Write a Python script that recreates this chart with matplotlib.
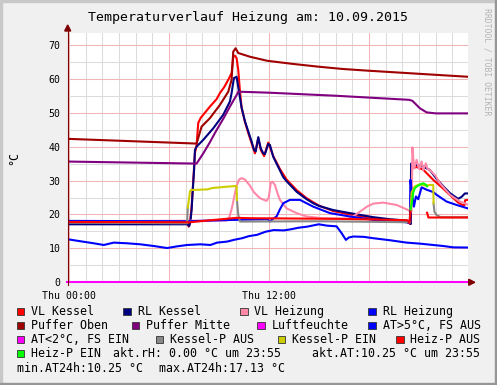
import numpy as np
import matplotlib
matplotlib.use("Agg")
import matplotlib.pyplot as plt
from matplotlib.patches import Rectangle, Polygon
from matplotlib.lines import Line2D

nan = np.nan

# ---- data (hours of the day, degC) ----
vl_kessel_t = [-0.1, 7.1, 7.18, 7.25, 7.35, 7.45, 7.55, 7.65, 7.75, 7.9, 8.05, 8.45, 8.85, 9.05, 9.3,
               9.55, 9.75, 9.8, 9.85, 9.95, 10.05, 10.15, 10.25, 10.35, 10.55, 10.75, 10.95, 11.15,
               11.35, 11.5, 11.7, 11.95, 12.25, 12.65, 13.05, 13.65, 14.25, 14.65, 15.0, 15.85,
               16.85, 18.25, 19.25, 20.25, 20.45, 20.5, 20.53, 20.85, 21.25, 21.85, 22.45, 22.85,
               23.35, 23.6, 23.72, 23.76, 23.92]
vl_kessel_v = [17.6, 17.5, 16.4, 17.5, 22.0, 30.0, 38.0, 40.5, 47.0, 48.5, 49.4, 51.8, 54.0, 55.8, 57.5,
               59.7, 61.7, 64.0, 66.5, 66.8, 66.1, 62.6, 56.5, 51.5, 47.3, 44.0, 41.0, 38.0,
               42.5, 39.0, 37.2, 41.2, 37.2, 33.4, 30.3, 27.2, 24.8, 23.6, 22.6, 21.0,
               20.0, 18.9, 18.3, 17.8, 17.3, 17.2, 33.5, 34.0, 33.2, 30.2, 27.6, 25.7,
               23.5, 22.8, 22.7, 24.2, 24.3]

rl_kessel_t = [-0.1, 7.1, 7.21, 7.28, 7.35, 7.42, 7.5, 7.55, 7.65, 8.05, 8.65, 9.25, 9.65, 9.75, 9.89,
               10.05, 10.15, 10.35, 10.55, 10.75, 10.95, 11.1, 11.2, 11.35, 11.5, 11.65, 11.75,
               11.95, 12.05, 12.25, 12.65, 12.85, 13.05, 13.65, 14.25, 14.65, 15.0, 15.85, 16.85,
               18.25, 19.25, 20.25, 20.45, 20.49, 20.52, 20.85, 21.25, 21.65, 22.05, 22.45, 22.85,
               23.05, 23.35, 23.55, 23.75, 23.92]
rl_kessel_v = [17.1, 17.1, 16.6, 17.9, 21.3, 27.2, 33.1, 39.0, 40.0, 42.0, 45.4, 49.4, 53.3, 55.8, 60.2,
               60.6, 57.5, 51.5, 47.5, 44.5, 41.5, 39.0, 38.6, 42.8, 39.5, 38.0, 37.8,
               40.8, 40.5, 37.0, 33.0, 31.0, 29.8, 26.7, 24.5, 23.3, 22.5, 21.3, 20.4,
               19.2, 18.6, 18.2, 17.6, 17.2, 35.0, 34.6, 34.1, 33.1, 30.5, 28.3, 26.3,
               25.6, 24.6, 25.2, 26.2, 26.2]

vl_heizung_t = [-0.1, 9.45, 9.6, 9.75, 9.9, 10.05, 10.2, 10.35, 10.55, 10.85, 11.1, 11.45, 11.85, 11.98,
                12.1, 12.2, 12.35, 12.5, 12.65, 13.05, 13.65, 14.25, 15.2, 16.3, 16.75, 17.1, 17.5,
                17.9, 18.25, 18.85, 19.65, 20.35, 20.49, 20.55, 20.6, 20.7, 20.85, 21.0, 21.15,
                21.25, 21.41, 21.5, 21.65, 22.0, 22.25, 22.85, 23.45, 23.75, 23.92]
vl_heizung_v = [18.0, 18.2, 19.0, 21.5, 25.0, 28.5, 30.3, 30.7, 30.3, 28.5, 26.5, 24.8, 24.0, 25.0,
                29.3, 29.7, 28.7, 26.3, 24.3, 21.8, 20.4, 19.4, 18.9, 18.8, 18.8, 19.6, 21.0,
                22.4, 23.2, 23.5, 22.8, 21.3, 20.8, 21.0, 39.8, 33.5, 36.1, 33.4, 35.6,
                33.1, 35.1, 33.5, 33.1, 31.3, 29.2, 25.8, 23.8, 23.3, 22.9]

rl_heizung_t = [-0.1, 7.1, 9.9, 11.9, 12.05, 12.2, 12.45, 12.65, 12.85, 13.25, 13.85, 14.25, 14.65,
                15.65, 16.85, 18.25, 20.25, 20.45, 20.48, 20.55, 20.69, 20.81, 20.95, 21.15, 21.45,
                21.85, 22.05, 22.65, 23.25, 23.92]
rl_heizung_v = [18.1, 18.0, 18.4, 18.6, 17.9, 18.6, 19.4, 21.5, 23.3, 24.3, 24.3, 23.3, 22.3,
                20.4, 19.4, 18.4, 17.7, 17.4, 30.2, 27.0, 22.3, 25.3, 24.5, 28.0, 27.3,
                26.6, 25.8, 23.8, 22.8, 21.8]

puffer_oben_t = [-0.1, 7.65, 7.95, 8.45, 9.05, 9.55, 9.75, 9.85, 9.99, 10.15, 10.85, 11.9, 13.4,
                 14.9, 16.4, 17.9, 19.9, 21.9, 23.92]
puffer_oben_v = [42.3, 40.9, 45.9, 48.4, 52.3, 56.2, 59.7, 68.0, 69.0, 67.6, 66.5, 65.3, 64.4,
                 63.6, 62.9, 62.4, 61.8, 61.2, 60.6]

puffer_mitte_t = [-0.1, 7.65, 8.05, 8.45, 8.85, 9.25, 9.65, 10.05, 10.15, 12.0, 16.0, 20.4, 20.6,
                  21.05, 21.45, 22.0, 23.92]
puffer_mitte_v = [35.6, 35.0, 38.0, 41.3, 44.9, 48.2, 51.8, 55.2, 56.2, 55.9, 55.0, 53.8, 53.5,
                  51.3, 50.1, 49.8, 49.8]

luftfeuchte_t = [-0.1, 23.92]
luftfeuchte_v = [0.0, 0.0]

aussen_t = [-0.1, 0.68, 1.48, 2.08, 2.68, 3.48, 4.28, 5.08, 5.88, 6.48, 7.08, 7.88, 8.48, 8.88, 9.48,
            9.88, 10.38, 10.78, 11.28, 11.78, 12.28, 12.88, 13.28, 13.78, 14.28, 14.98, 15.48,
            16.05, 16.35, 16.61, 16.78, 17.05, 17.68, 18.25, 19.25, 20.25, 21.05, 21.85, 22.45,
            23.05, 23.92]
aussen_v = [12.7, 12.1, 11.5, 11.0, 11.7, 11.5, 11.2, 10.7, 10.1, 10.6, 11.0, 11.2, 11.0, 11.7, 12.0,
            12.5, 13.0, 13.6, 14.0, 14.9, 15.4, 15.3, 15.6, 16.1, 16.4, 17.1, 16.7,
            16.5, 14.5, 12.5, 13.2, 13.5, 13.4, 13.0, 12.4, 11.7, 11.4, 11.0, 10.7,
            10.3, 10.25]

kessel_p_aus_t = [-0.1, 7.08, 7.12, nan, 10.07, 10.15, 10.25, 15.0, 20.45, nan,
                  21.87, 21.92, 22.05, 22.3, 23.92]
kessel_p_aus_v = [17.6, 17.4, 22.0, nan, 24.3, 19.9, 17.9, 18.0, 17.7, nan,
                  23.3, 20.8, 19.8, 19.2, 19.2]
kessel_p_ein_t = [7.12, 7.16, 7.25, 7.3, 8.3, 8.6, 9.5, 10.05, 10.07, nan,
                  20.49, 20.55, 20.75, 21.05, 21.4, 21.6, 21.85, 21.87]
kessel_p_ein_v = [22.0, 23.3, 26.7, 27.2, 27.4, 27.8, 28.2, 28.4, 24.3, nan,
                  21.5, 26.5, 28.3, 28.9, 28.5, 28.7, 28.7, 23.3]

heiz_p_aus_t = [-0.1, 7.25, 8.5, 10.05, 10.9, 16.25, 18.5, 20.3, 20.42, 20.48, nan,
                21.48, 21.56, 23.92]
heiz_p_aus_v = [17.8, 17.7, 18.3, 19.0, 18.9, 18.7, 18.5, 18.3, 17.5, 21.0, nan,
                20.5, 19.1, 19.1]
heiz_p_ein_t = [20.49, 20.55, 20.65, 20.75, 20.9, 21.05, 21.25, 21.4, 21.48]
heiz_p_ein_v = [21.5, 23.0, 26.5, 27.8, 28.4, 28.8, 29.2, 28.8, 28.3]

x_ticks = [0, 12]
x_labels = ["Thu 00:00", "Thu 12:00"]
y_ticks = [0, 10, 20, 30, 40, 50, 60, 70]

title = "Temperaturverlauf Heizung am: 10.09.2015"
legend_rows = [
    [("#FF0000", "VL Kessel"), ("#000080", "RL Kessel"), ("#FF88A8", "VL Heizung"), ("#0000FF", "RL Heizung")],
    [("#A00000", "Puffer Oben"), ("#800080", "Puffer Mitte"), ("#FF00FF", "Luftfeuchte"), ("#0000FF", "AT>5°C, FS AUS")],
    [("#FF00FF", "AT<2°C, FS EIN"), ("#888888", "Kessel-P AUS"), ("#CCCC00", "Kessel-P EIN"), ("#FF0000", "Heiz-P AUS")],
    [("#00FF00", "Heiz-P EIN")],
]
legend_box_x = [[16.7, 123.3, 240.0, 368.3],
                [16.7, 131.7, 257.3, 368.3],
                [16.7, 155.7, 277.7, 396.0],
                [16.7]]
info_texts = [(113.3, 3, "akt.rH: 0.00 °C um 23:55"),
              (312.3, 3, "akt.AT:10.25 °C um 23:55"),
              (16.7, 4, "min.AT24h:10.25 °C"),
              (158.7, 4, "max.AT24h:17.13 °C")]

# ---- figure ----
W, H = 497, 385
MONO = "DejaVu Sans Mono"
fig = plt.figure(figsize=(W / 100, H / 100), dpi=100, facecolor="#F0F0F0")


def fx(x):
    return x / W


def fy(y):
    return 1 - y / H


L, R, T, B = 67.7, 467.7, 33.0, 282.3
ax = fig.add_axes([fx(L), fy(B), (R - L) / W, (B - T) / H])
ax.set_facecolor("white")
ax.set_xlim(-5 / 60, 23 + 55 / 60)
ax.set_ylim(0, 73.5)
for s in ax.spines.values():
    s.set_visible(False)

# grid
for h in range(0, 24):
    ax.axvline(h, color="#F2B4B4" if h % 6 == 0 else "#DCDCDC", lw=0.75, zorder=0)
for v in range(5, 75, 5):
    ax.axhline(v, color="#F2B4B4" if v % 10 == 0 else "#DCDCDC", lw=0.75, zorder=0)

ax.set_xticks(x_ticks)
ax.set_xticklabels(x_labels, family=MONO, fontsize=7.1)
ax.set_yticks(y_ticks)
ax.set_yticklabels([str(v) for v in y_ticks], family=MONO, fontsize=7.1)
ax.tick_params(length=0)
ax.tick_params(axis="x", pad=6)
ax.tick_params(axis="y", pad=5)

lw = 1.5
series = [
    (vl_kessel_t, vl_kessel_v, "#FF0000"),
    (rl_kessel_t, rl_kessel_v, "#000080"),
    (vl_heizung_t, vl_heizung_v, "#FF88A8"),
    (rl_heizung_t, rl_heizung_v, "#0000FF"),
    (puffer_oben_t, puffer_oben_v, "#A00000"),
    (puffer_mitte_t, puffer_mitte_v, "#800080"),
    (aussen_t, aussen_v, "#0000FF"),
    (kessel_p_aus_t, kessel_p_aus_v, "#888888"),
    (kessel_p_ein_t, kessel_p_ein_v, "#CCCC00"),
    (heiz_p_aus_t, heiz_p_aus_v, "#FF0000"),
    (heiz_p_ein_t, heiz_p_ein_v, "#00FF00"),
]
for t, v, c in series:
    ax.plot(t, v, color=c, lw=lw, zorder=2)
ax.plot(luftfeuchte_t, luftfeuchte_v, color="#FF00FF", lw=lw, zorder=3, clip_on=False)

# axes with arrows
ARROW = "#7F0000"
fig.add_artist(Line2D([fx(L), fx(L)], [fy(B + 3), fy(28)], color=ARROW, lw=0.8))
fig.add_artist(Polygon([[fx(L - 3), fy(31)], [fx(L + 3), fy(31)], [fx(L), fy(25)]],
                       closed=True, color=ARROW, transform=fig.transFigure))
fig.add_artist(Polygon([[fx(R + 1), fy(B - 3)], [fx(R + 1), fy(B + 3)], [fx(R + 7), fy(B)]],
                       closed=True, color=ARROW, transform=fig.transFigure))

# frame
fig.add_artist(Rectangle((0, fy(2)), 1, 2 / H, color="#C8C8C8", transform=fig.transFigure))
fig.add_artist(Rectangle((0, 0), 2 / W, 1, color="#C8C8C8", transform=fig.transFigure))
fig.add_artist(Rectangle((0, 0), 1, 2 / H, color="#969696", transform=fig.transFigure))
fig.add_artist(Rectangle((fx(W - 2), 0), 2 / W, 1, color="#969696", transform=fig.transFigure))

# texts
fig.text(fx(247.5), fy(20.7), title, ha="center", va="baseline", family=MONO, fontsize=9.5)
fig.text(fx(14), fy(157.5), "°C", rotation=90, ha="center", va="center", family=MONO, fontsize=8.4)
fig.text(fx(486.5), fy(62), "RRDTOOL / TOBI OETIKER", rotation=270, ha="center", va="center",
         family=MONO, fontsize=5.9, color="#B4B4B4")

# legend
row_base = [315.2, 329.2, 343.3, 357.3, 371.5]
for r, row in enumerate(legend_rows):
    for (c, label), bx in zip(row, legend_box_x[r]):
        fig.add_artist(Rectangle((fx(bx), fy(row_base[r])), 7.5 / W, 7.5 / H, facecolor=c,
                                 edgecolor="#333333", lw=0.6, transform=fig.transFigure))
        fig.text(fx(bx + 14.3), fy(row_base[r]), label, ha="left", va="baseline",
                 family=MONO, fontsize=8.4)
for x, r, s in info_texts:
    fig.text(fx(x), fy(row_base[r]), s, ha="left", va="baseline", family=MONO, fontsize=8.4)

fig.savefig("out.png", dpi=100, facecolor=fig.get_facecolor())
